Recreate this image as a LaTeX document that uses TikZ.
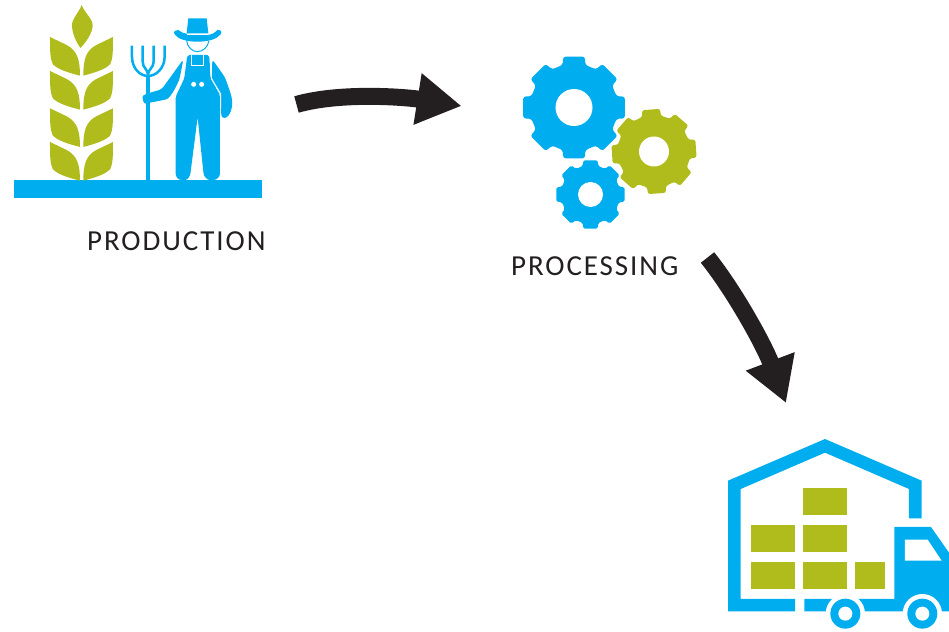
\documentclass[tikz,border=0pt]{standalone}
\usepackage{fontspec}
\setmainfont{Carlito}
\usetikzlibrary{arrows.meta}
\definecolor{skyb}{HTML}{00AEEF}
\definecolor{olivg}{HTML}{B0BC1C}
\definecolor{inkb}{HTML}{231F20}
\tikzset{
  zoomed/.style={x=0.3333pt,y=-0.3333pt},
  flowarrow/.style={draw=inkb,line width=17pt,-{Triangle[length=44.5pt,width=49pt,fill=inkb]}},
  stagelabel/.style={anchor=base west,inner sep=0pt,text=inkb},
}
\newcommand{\gearfig}[7]{% cx, cy, tip radius, root radius, hole radius, rotation, colour
  \begin{scope}[shift={(#1,#2)}]
    \fill[#7,rounded corners=#3*0.05pt]
      ({#6+12}:#3) -- ({#6+15}:#4) -- ({#6+30}:#4)
      \foreach \k in {1,...,7}{
        -- ({#6+\k*45-12}:#3) -- ({#6+\k*45+12}:#3)
        -- ({#6+\k*45+15}:#4) -- ({#6+\k*45+30}:#4)
      } -- ({#6-12}:#3) -- cycle;
    \fill[white] (0,0) circle (#5);
  \end{scope}}
\newcommand{\leafpair}[1]{%
  \begin{scope}[shift={(0,#1)},zoomed]
    \fill[olivg] (150,111) -- (200,135) .. controls (232,152) and (240,180) .. (240,227)
      .. controls (205,218) and (172,208) .. (158,192) .. controls (150,175) and (150,150) .. (150,111) -- cycle;
    \fill[olivg] (339,111) -- (289,135) .. controls (257,152) and (250,180) .. (250,227)
      .. controls (284,218) and (317,208) .. (331,192) .. controls (339,175) and (339,150) .. (339,111) -- cycle;
  \end{scope}}
\begin{document}
\begin{tikzpicture}[x=1pt,y=-1pt]
\useasboundingbox (0,0) rectangle (949,631);
% ground
\fill[skyb] (14,180) rectangle (262,198);
% wheat
\fill[olivg] (81.7,5) .. controls (84,12) and (92.7,19) .. (92.7,25) .. controls (92.7,33) and (86,42) .. (80.5,48)
  .. controls (76,42) and (72,33) .. (72,25) .. controls (72,19) and (79,12) .. (81.7,5) -- cycle;
\leafpair{0}\leafpair{34}\leafpair{71.3}\leafpair{105}
% farmer and fork
\begin{scope}[zoomed]
  % fork
  \draw[skyb,line width=3.2pt] (444,228) -- (444,540);
  \draw[skyb,line width=2.5pt] (396,137) -- (396,170) .. controls (396,205) and (420,228) .. (444,228)
     .. controls (468,228) and (494,205) .. (494,170) -- (494,137);
  \draw[skyb,line width=2.5pt] (428,137) -- (428,185) .. controls (428,205) and (444,205) .. (444,228);
  \draw[skyb,line width=2.5pt] (461,137) -- (461,185) .. controls (461,205) and (444,205) .. (444,228);
  % hat
  \fill[skyb] (565,55) -- (620,55) -- (625,100) -- (560,100) -- cycle;
  \fill[skyb] (535,90) .. controls (545,98) and (555,105) .. (620,105)
     .. controls (635,105) and (645,98) .. (652,90) .. controls (660,88) and (668,95) .. (662,103)
     .. controls (650,118) and (625,125) .. (592,125) .. controls (560,125) and (535,118) .. (524,103)
     .. controls (518,95) and (528,88) .. (535,90) -- cycle;
  \draw[white,line width=0.8pt] (560,102) -- (625,102);
  % face
  \draw[skyb,line width=1pt] (560,122) .. controls (562,142) and (578,155) .. (592,155)
     .. controls (608,155) and (624,142) .. (627,122);
  % overalls
  \fill[skyb,rounded corners=2pt] (562,165) -- (628,165) -- (632,235) -- (660,285) -- (660,515)
     .. controls (660,530) and (650,540) .. (635,540) .. controls (622,540) and (612,530) .. (610,515)
     -- (593,352) -- (572,515) .. controls (570,530) and (562,540) .. (550,540)
     .. controls (535,540) and (527,530) .. (527,515) -- (527,290) -- (553,235) -- cycle;
  % near arm
  \fill[skyb,rounded corners=3pt] (550,178) -- (546,200) -- (538,240) -- (522,272) -- (505,297) -- (445,309)
     .. controls (430,312) and (425,290) .. (437,282) -- (485,268) -- cycle;
  % far arm
  \fill[skyb,rounded corners=3pt] (637,178) -- (675,232) -- (692,280) .. controls (702,320) and (690,352) .. (665,355)
     -- (662,320) -- (662,285) -- (636,240) -- cycle;
  % seams
  \draw[white,line width=1pt] (575,165) -- (575,196) -- (611,196) -- (611,165);
  \draw[white,line width=1pt] (553,176) -- (551,205) -- (541,240) -- (525,275) -- (510,293);
  \draw[white,line width=1pt] (630,165) -- (634,235) -- (662,282) -- (662,325);
  \fill[white] (581,253) circle (7.5) (605,253) circle (7.5);
\end{scope}
% gears
\gearfig{574}{107.5}{52}{44}{18.5}{0}{skyb}
\gearfig{654}{151.5}{43}{36.5}{15}{-4}{olivg}
\gearfig{590.5}{194.5}{35}{29.5}{12.5}{0}{skyb}
% warehouse and truck
\begin{scope}[shift={(710,430)},zoomed]
  \fill[skyb] (54,544) -- (54,152) -- (345,27) -- (635,152) -- (635,265) -- (597,265) -- (597,177)
     -- (345,68) -- (92,177) -- (92,507) -- (255,507) -- (255,544) -- cycle;
  \fill[skyb] (283,544) -- (283,507) -- (553,507) -- (553,291) -- (663,291) -- (717,368) -- (717,544) -- cycle;
  \fill[white] (585,329) -- (653,329) -- (695,392) -- (585,392) -- cycle;
  \fill[olivg] (279,174) rectangle (411,255);
  \fill[olivg] (123,285) rectangle (255,366);
  \fill[olivg] (279,285) rectangle (411,366);
  \fill[olivg] (123,396) rectangle (255,477);
  \fill[olivg] (279,396) rectangle (411,477);
  \fill[olivg] (435,396) rectangle (525,477);
  \fill[white] (406,551) circle (59) (637,551) circle (59);
  \fill[skyb] (406,551) circle (45) (637,551) circle (45);
  \fill[white] (406,551) circle (21) (637,551) circle (21);
\end{scope}
% labels
\node[stagelabel] (production) at (87,250)
  {\fontsize{29pt}{29pt}\addfontfeature{LetterSpace=6.6}\selectfont PRODUCTION};
\node[stagelabel] (processing) at (511,275)
  {\fontsize{29pt}{29pt}\addfontfeature{LetterSpace=6.6}\selectfont PROCESSING};
% arrows
\coordinate (a1s) at (296.5,104.5);
\coordinate (a1e) at (461.5,106);
\coordinate (a2s) at (707.5,257.5);
\coordinate (a2e) at (786,403);
\draw[flowarrow] (a1s) .. controls (340,92) and (405,97) .. (a1e);
\draw[flowarrow] (a2s) .. controls (735,292) and (764,345) .. (a2e);
\end{tikzpicture}
\end{document}
